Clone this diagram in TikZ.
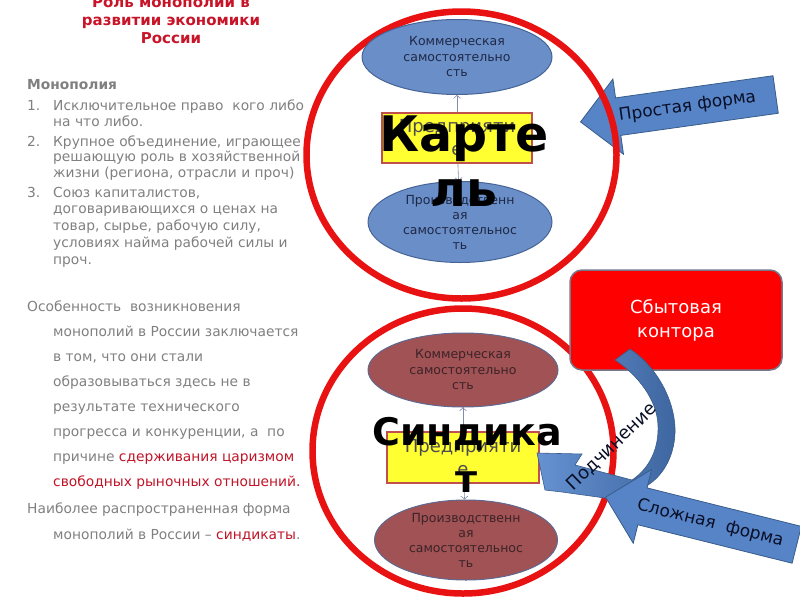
\documentclass[tikz,border=0pt]{standalone}
\usepackage{fontspec}
\setmainfont{DejaVu Sans}
\usetikzlibrary{shapes.geometric, shapes.arrows, arrows.meta}
\definecolor{ringred}{RGB}{232,18,18}
\definecolor{kfill}{RGB}{106,142,200}
\definecolor{kline}{RGB}{70,100,150}
\definecolor{knavy}{RGB}{30,40,70}
\definecolor{sfill}{RGB}{160,82,84}
\definecolor{sline}{RGB}{95,105,145}
\definecolor{sbrown}{RGB}{60,35,40}
\definecolor{firmfill}{RGB}{255,255,50}
\definecolor{firmline}{RGB}{192,80,77}
\definecolor{linkgray}{RGB}{130,140,170}
\definecolor{arrowblue}{RGB}{86,132,198}
\definecolor{arrowline}{RGB}{56,93,138}
\definecolor{bandlight}{RGB}{102,146,210}
\definecolor{banddark}{RGB}{62,102,160}
\definecolor{navytext}{RGB}{10,15,40}
\definecolor{officered}{RGB}{255,0,0}
\definecolor{officeline}{RGB}{120,120,140}
\definecolor{bodygray}{RGB}{128,128,128}
\definecolor{accent}{RGB}{192,20,40}
\definecolor{titlered}{RGB}{200,20,40}
\tikzset{
    ring/.style={ellipse, draw=ringred, line width=6.5pt, inner sep=0pt},
    kpart/.style={ellipse, draw=kline, fill=kfill, line width=1pt, inner sep=0pt, align=center, text=knavy, font=\fontsize{12.5}{15.5}\selectfont},
    spart/.style={kpart, draw=sline, fill=sfill, text=sbrown},
    firm/.style={rectangle, draw=firmline, fill=firmfill, line width=1.5pt, minimum width=150pt, minimum height=50pt, inner sep=0pt, align=center, text=black!70, font=\fontsize{18}{23}\selectfont},
    bigname/.style={align=center, inner sep=0pt, font=\bfseries\fontsize{49}{55}\selectfont},
    link/.style={draw=linkgray, line width=0.6pt, -{Straight Barb[length=3pt,width=7pt]}},
    formarrow/.style={single arrow, shape border rotate=180, draw=arrowline, fill=arrowblue, line width=0.8pt, minimum height=197pt, minimum width=76pt, single arrow head extend=19pt, inner xsep=2pt, inner ysep=10.5pt, text=navytext, font=\fontsize{17}{17}\selectfont},
    body/.style={anchor=base west, inner sep=0pt, align=left, text=bodygray, font=\fontsize{13.8}{16}\selectfont}
}
\begin{document}
\begin{tikzpicture}[x=1pt, y=-1pt]
    \useasboundingbox (0,0) rectangle (800,600);
    \clip (0,0) rectangle (800,600);

    % Left column (base = last line)
    \node[anchor=base, inner sep=0pt, align=center, text=titlered, font=\bfseries\fontsize{15}{18}\selectfont] (head) at (171,43) {Роль монополий в\\развитии экономики\\России};
    \node[body, font=\bfseries\fontsize{13.8}{16}\selectfont] (mono) at (27,89) {Монополия};
    \node[body] (n1) at (27,110) {1.};
    \node[body] (i1) at (53,126) {Исключительное право~ кого либо\\на что либо.};
    \node[body] (n2) at (27,146) {2.};
    \node[body, font=\fontsize{13.8}{15.7}\selectfont] (i2) at (53,177.4) {Крупное объединение, играющее\\решающую роль в хозяйственной\\жизни (региона, отрасли и проч)};
    \node[body] (n3) at (27,197) {3.};
    \node[body, font=\fontsize{13.8}{16.8}\selectfont] (i3) at (53,264.2) {Союз капиталистов,\\договаривающихся о ценах на\\товар, сырье, рабочую силу,\\условиях найма рабочей силы и\\проч.};
    \node[body] (p1a) at (27,311) {Особенность~ возникновения};
    \node[body, font=\fontsize{13.8}{25}\selectfont] (p1b) at (53,486) {монополий в России заключается\\в том, что они стали\\образовываться здесь не в\\результате технического\\прогресса и конкуренции, а~ по\\причине \textcolor{accent}{сдерживания царизмом}\\\textcolor{accent}{свободных рыночных отношений.}};
    \node[body] (p2a) at (27,513) {Наиболее распространенная форма};
    \node[body] (p2b) at (53,539) {монополий в России – \textcolor{accent}{синдикаты}.};

    % Simple form (under the ring)
    \node[formarrow, rotate=8, anchor=tip] (simple) at (580,122) {Простая форма};

    % Cartel
    \node[ring, minimum width=310pt, minimum height=287pt] (kring) at (461.5,155) {};
    \node[kpart, minimum width=190pt, minimum height=75pt] (kcom) at (457,57) {Коммерческая\\самостоятельно\\сть};
    \node[kpart, minimum width=184pt, minimum height=81pt, font=\fontsize{12.5}{15}\selectfont] (kprod) at (460,222) {Производственн\\ая\\самостоятельнос\\ть};
    \node[firm] (kfirm) at (457,138) {Предприяти\\е};
    \draw[link] (kfirm) -- (kcom);
    \draw[link] (kfirm) -- (kprod);
    \node[bigname] (kname) at (464,161) {Карте\\ль};

    % Syndicate
    \node[ring, minimum width=301pt, minimum height=285pt] (sring) at (463,451) {};
    \node[spart, minimum width=190pt, minimum height=74pt] (scom) at (463,370) {Коммерческая\\самостоятельно\\сть};
    \node[spart, minimum width=183pt, minimum height=80pt, font=\fontsize{12.5}{15}\selectfont] (sprod) at (466,540) {Производственн\\ая\\самостоятельнос\\ть};
    \node[firm, minimum width=152pt, minimum height=51pt] (sfirm) at (463,457.5) {Предприяти\\е};
    \draw[link] (sfirm) -- (scom);
    \draw[link] (sfirm) -- (sprod);
    \node[bigname, font=\bfseries\fontsize{38}{47}\selectfont] (sname) at (467,455) {Синдика\\т};

    % Sales office and subordination
    \node[rectangle, rounded corners=12pt, draw=officeline, fill=officered, line width=1.5pt, minimum width=212pt, minimum height=100pt, align=center, text=white, font=\fontsize{18}{24}\selectfont] (office) at (676,320) {Сбытовая\\контора};
    \draw[draw=arrowline, line width=0.6pt, left color=bandlight, right color=banddark]
        (537,453) -- (582,454) -- (575,465) -- (632,480)
        .. controls (650,468) and (659,448) .. (658,425)
        .. controls (657,400) and (638,375) .. (615,360)
        -- (630,349)
        .. controls (655,365) and (676,400) .. (675,433)
        .. controls (674,458) and (662,476) .. (648,485)
        -- (612,499) -- (562,492) -- (545,490) -- cycle;
    \node[rotate=44, inner sep=0pt, text=navytext, font=\fontsize{18}{18}\selectfont] (subord) at (612,447) {Подчинение};

    % Complex form
    \node[formarrow, rotate=-14, anchor=tip] (complex) at (605,497) {Сложная~ форма};
\end{tikzpicture}
\end{document}
